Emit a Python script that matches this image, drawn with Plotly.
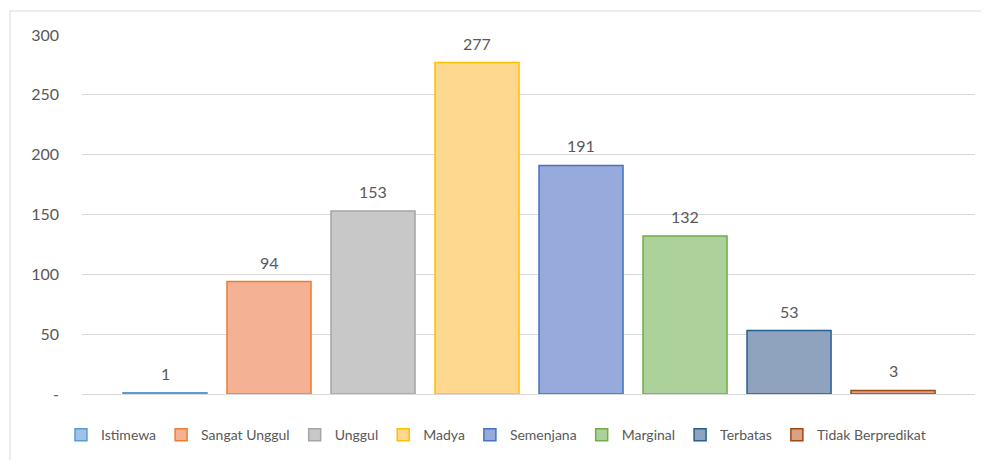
import plotly.graph_objects as go

categories = ["Istimewa", "Sangat Unggul", "Unggul", "Madya", "Semenjana", "Marginal", "Terbatas", "Tidak Berpredikat"]
values = [1, 94, 153, 277, 191, 132, 53, 3]
fill_colors = ["#9fc2e6", "#f5b193", "#c8c8c8", "#fed88f", "#97aadc", "#acd19b", "#8fa3bf", "#d7a286"]
line_colors = ["#5b9bd5", "#ed7d31", "#a5a5a5", "#ffc000", "#4472c4", "#70ad47", "#255e91", "#9e480e"]
y_tickvals = [0, 50, 100, 150, 200, 250, 300]
y_ticktext = ["-", "50", "100", "150", "200", "250", "300"]

FONT = "Lato, Open Sans, sans-serif"
GREY = "#595959"

fig = go.Figure()
annotations = []
for i, (name, v, fc, lc) in enumerate(zip(categories, values, fill_colors, line_colors)):
    fig.add_trace(go.Bar(
        x=[i], y=[v], name=name, width=0.808,
        marker=dict(color=fc, line=dict(color=lc, width=1.5)),
    ))
    annotations.append(dict(x=i, y=v, text=str(v), showarrow=False, yanchor="bottom",
                            yshift=8, font=dict(family=FONT, size=16, color=GREY)))

# the page body adds an 8px offset, so the figure is sized to fit the window
fig.update_layout(
    width=981, height=452,
    margin=dict(l=74, r=14, t=27, b=66),
    barmode="overlay",
    plot_bgcolor="white", paper_bgcolor="white",
    font=dict(family=FONT, size=15, color=GREY),
    showlegend=True,
    legend=dict(orientation="h", xref="container", yref="container",
                x=0.054, xanchor="left", y=0.055, yanchor="middle",
                font=dict(family=FONT, size=14, color=GREY), itemwidth=30,
                tracegroupgap=0, traceorder="normal"),
    xaxis=dict(range=[-0.798, 7.788], showticklabels=False, showgrid=False, zeroline=False,
               showline=False, ticks="", automargin=False),
    yaxis=dict(range=[0, 300], tickvals=y_tickvals, ticktext=y_ticktext,
               showgrid=True, gridcolor="#d9d9d9", gridwidth=1, zeroline=True,
               zerolinecolor="#d9d9d9", zerolinewidth=1, showline=False, ticks="",
               ticklabelstandoff=22, automargin=False,
               tickfont=dict(family=FONT, size=16, color=GREY)),
    annotations=annotations,
    shapes=[dict(type="rect", xref="paper", yref="paper", x0=-0.0806, x1=1.05, y0=-0.3, y1=1.0669,
                 line=dict(color="#d9d9d9", width=1), fillcolor="rgba(0,0,0,0)", layer="below")],
)

fig.write_html("out.html")
